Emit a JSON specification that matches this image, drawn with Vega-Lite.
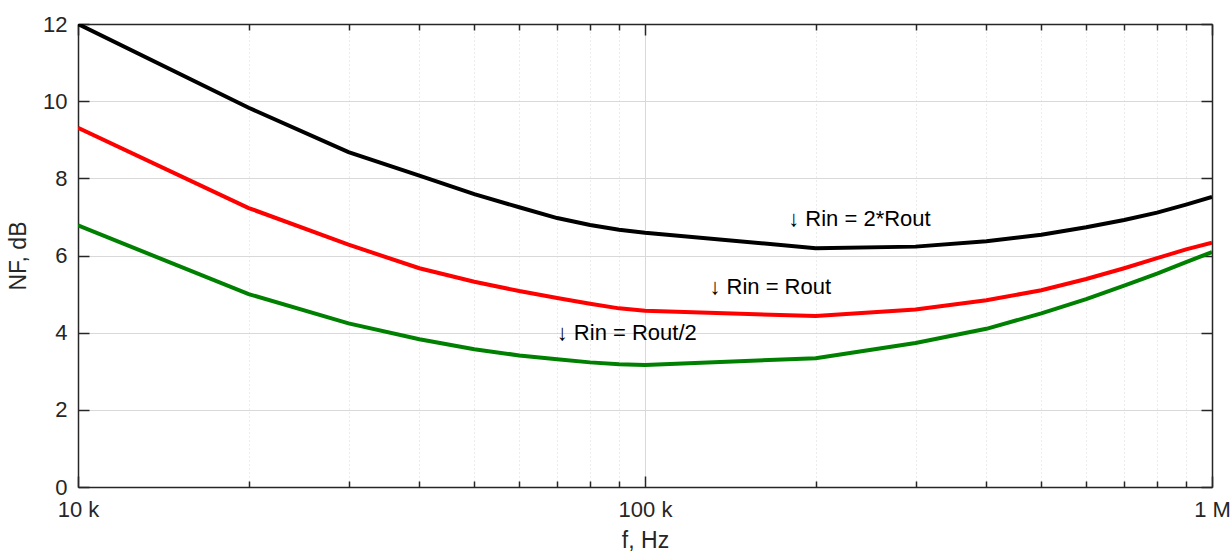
{
  "$schema": "https://vega.github.io/schema/vega-lite/v6.json",
  "width": 1134,
  "height": 463,
  "autosize": "none",
  "padding": {"left": 78, "top": 24, "right": 20, "bottom": 66},
  "background": "white",
  "config": {
    "view": {"stroke": null},
    "font": "Liberation Sans",
    "axis": {"labelFont": "Liberation Sans", "titleFont": "Liberation Sans", "labelFontSize": 22, "titleFontSize": 23, "titleFontWeight": "normal", "labelColor": "#262626", "titleColor": "#262626", "domainColor": "#262626", "domainWidth": 1.5, "tickColor": "#262626", "tickWidth": 1.5}
  },
  "datasets": {
    "curves": [
      {"f": 10000, "nf": 12.0, "s": "2*Rout"}, {"f": 20000, "nf": 9.83, "s": "2*Rout"}, {"f": 30000, "nf": 8.68, "s": "2*Rout"}, {"f": 40000, "nf": 8.07, "s": "2*Rout"}, {"f": 50000, "nf": 7.59, "s": "2*Rout"}, {"f": 60000, "nf": 7.25, "s": "2*Rout"}, {"f": 70000, "nf": 6.97, "s": "2*Rout"}, {"f": 80000, "nf": 6.79, "s": "2*Rout"}, {"f": 90000, "nf": 6.67, "s": "2*Rout"}, {"f": 100000, "nf": 6.59, "s": "2*Rout"}, {"f": 200000, "nf": 6.19, "s": "2*Rout"}, {"f": 300000, "nf": 6.23, "s": "2*Rout"}, {"f": 400000, "nf": 6.37, "s": "2*Rout"}, {"f": 500000, "nf": 6.54, "s": "2*Rout"}, {"f": 600000, "nf": 6.73, "s": "2*Rout"}, {"f": 700000, "nf": 6.92, "s": "2*Rout"}, {"f": 800000, "nf": 7.11, "s": "2*Rout"}, {"f": 900000, "nf": 7.32, "s": "2*Rout"}, {"f": 1000000, "nf": 7.52, "s": "2*Rout"},
      {"f": 10000, "nf": 9.31, "s": "Rout"}, {"f": 20000, "nf": 7.23, "s": "Rout"}, {"f": 30000, "nf": 6.28, "s": "Rout"}, {"f": 40000, "nf": 5.67, "s": "Rout"}, {"f": 50000, "nf": 5.32, "s": "Rout"}, {"f": 60000, "nf": 5.08, "s": "Rout"}, {"f": 70000, "nf": 4.9, "s": "Rout"}, {"f": 80000, "nf": 4.75, "s": "Rout"}, {"f": 90000, "nf": 4.63, "s": "Rout"}, {"f": 100000, "nf": 4.57, "s": "Rout"}, {"f": 200000, "nf": 4.43, "s": "Rout"}, {"f": 300000, "nf": 4.6, "s": "Rout"}, {"f": 400000, "nf": 4.84, "s": "Rout"}, {"f": 500000, "nf": 5.1, "s": "Rout"}, {"f": 600000, "nf": 5.39, "s": "Rout"}, {"f": 700000, "nf": 5.67, "s": "Rout"}, {"f": 800000, "nf": 5.93, "s": "Rout"}, {"f": 900000, "nf": 6.16, "s": "Rout"}, {"f": 1000000, "nf": 6.33, "s": "Rout"},
      {"f": 10000, "nf": 6.78, "s": "Rout/2"}, {"f": 20000, "nf": 5.0, "s": "Rout/2"}, {"f": 30000, "nf": 4.24, "s": "Rout/2"}, {"f": 40000, "nf": 3.83, "s": "Rout/2"}, {"f": 50000, "nf": 3.57, "s": "Rout/2"}, {"f": 60000, "nf": 3.41, "s": "Rout/2"}, {"f": 70000, "nf": 3.31, "s": "Rout/2"}, {"f": 80000, "nf": 3.23, "s": "Rout/2"}, {"f": 90000, "nf": 3.18, "s": "Rout/2"}, {"f": 100000, "nf": 3.16, "s": "Rout/2"}, {"f": 200000, "nf": 3.34, "s": "Rout/2"}, {"f": 300000, "nf": 3.73, "s": "Rout/2"}, {"f": 400000, "nf": 4.1, "s": "Rout/2"}, {"f": 500000, "nf": 4.5, "s": "Rout/2"}, {"f": 600000, "nf": 4.87, "s": "Rout/2"}, {"f": 700000, "nf": 5.22, "s": "Rout/2"}, {"f": 800000, "nf": 5.53, "s": "Rout/2"}, {"f": 900000, "nf": 5.83, "s": "Rout/2"}, {"f": 1000000, "nf": 6.09, "s": "Rout/2"}
    ],
    "notes": [
      {"f": 178900, "nf": 6.76, "label": "↓ Rin = 2*Rout"},
      {"f": 129900, "nf": 5.0, "label": "↓ Rin = Rout"},
      {"f": 69880, "nf": 3.8, "label": "↓ Rin = Rout/2"}
    ]
  },
  "layer": [
    {
      "data": {"name": "curves"},
      "mark": {"type": "line", "strokeWidth": 4, "clip": true},
      "encoding": {
        "x": {"field": "f", "type": "quantitative", "scale": {"type": "log", "domain": [10000, 1000000], "nice": false},
          "axis": {"orient": "bottom", "title": "f, Hz", "titlePadding": 4,
            "values": [10000, 20000, 30000, 40000, 50000, 60000, 70000, 80000, 90000, 100000, 200000, 300000, 400000, 500000, 600000, 700000, 800000, 900000, 1000000],
            "labelExpr": "datum.value == 10000 ? '10 k' : datum.value == 100000 ? '100 k' : datum.value == 1000000 ? '1 M' : ''",
            "labelPadding": 23, "labelFlush": false, "labelOverlap": false,
            "tickSize": {"condition": {"test": "datum.value == 10000 || datum.value == 100000 || datum.value == 1000000", "value": -11}, "value": -6},
            "grid": true, "gridColor": "#d9d9d9", "gridWidth": 1,
            "gridDash": {"condition": {"test": "datum.value == 10000 || datum.value == 100000 || datum.value == 1000000", "value": []}, "value": [1, 3]}}},
        "y": {"field": "nf", "type": "quantitative", "scale": {"domain": [0, 12], "nice": false},
          "axis": {"orient": "left", "title": "NF, dB", "titlePadding": 12, "values": [0, 2, 4, 6, 8, 10, 12], "tickSize": -11, "labelPadding": 22,
            "grid": true, "gridColor": "#d9d9d9", "gridWidth": 1}},
        "color": {"field": "s", "type": "nominal", "scale": {"domain": ["2*Rout", "Rout", "Rout/2"], "range": ["#000000", "#ff0000", "#008000"]}, "legend": null},
        "detail": {"field": "s"}
      }
    },
    {
      "data": {"name": "curves"},
      "mark": {"type": "line", "opacity": 0},
      "encoding": {
        "x": {"field": "f", "type": "quantitative", "scale": {"type": "log", "domain": [10000, 1000000], "nice": false},
          "axis": {"orient": "top", "title": null, "labels": false, "grid": false,
            "values": [10000, 20000, 30000, 40000, 50000, 60000, 70000, 80000, 90000, 100000, 200000, 300000, 400000, 500000, 600000, 700000, 800000, 900000, 1000000],
            "tickSize": {"condition": {"test": "datum.value == 10000 || datum.value == 100000 || datum.value == 1000000", "value": -11}, "value": -6}}},
        "y": {"field": "nf", "type": "quantitative", "scale": {"domain": [0, 12], "nice": false},
          "axis": {"orient": "right", "title": null, "labels": false, "grid": false, "values": [0, 2, 4, 6, 8, 10, 12], "tickSize": -11}},
        "detail": {"field": "s"}
      }
    },
    {
      "data": {"name": "notes"},
      "mark": {"type": "text", "align": "left", "baseline": "alphabetic", "fontSize": 22, "font": "Liberation Sans", "color": "#000000"},
      "encoding": {
        "x": {"field": "f", "type": "quantitative", "axis": null},
        "y": {"field": "nf", "type": "quantitative", "axis": null},
        "text": {"field": "label"}
      }
    }
  ],
  "resolve": {"axis": {"x": "independent", "y": "independent"}}
}
